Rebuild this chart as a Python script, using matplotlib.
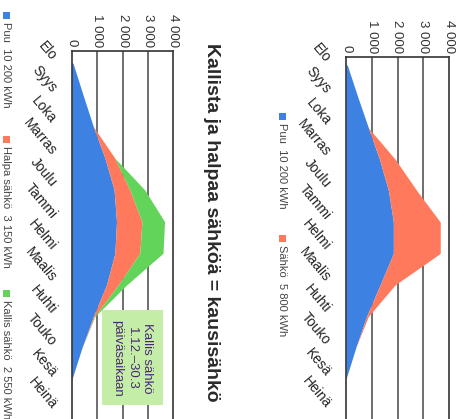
import numpy as np
import matplotlib.pyplot as plt
from matplotlib.patches import Rectangle

plt.rcParams['font.family'] = ['Liberation Sans', 'DejaVu Sans']

months = ['Elo', 'Syys', 'Loka', 'Marras', 'Joulu', 'Tammi',
          'Helmi', 'Maalis', 'Huhti', 'Touko', 'Kesä', 'Heinä']

# kausisähkö: wood + cheap and expensive electricity (kWh / month)
puu_kausi = [50, 445, 850, 1310, 1670, 1765, 1700, 1370, 850, 395, 0, 0]
halpa_sahko = [0, 0, 0, 390, 620, 1000, 980, 460, 40, 0, 0, 0]
kallis_sahko = [0, 0, 0, 0, 585, 890, 915, 330, 20, 0, 0, 0]

# plain electricity contract: wood + electricity (kWh / month)
puu_yleis = [50, 450, 870, 1300, 1650, 1840, 1840, 1325, 800, 380, 0, 0]
sahko = [0, 0, 0, 610, 1100, 1820, 1820, 585, 70, 0, 0, 0]

value_ticks = [0, 1000, 2000, 3000, 4000]
value_labels = ['0', '1 000', '2 000', '3 000', '4 000']

left_legend = ['Puu  10 200 kWh', 'Halpa sähkö  3 150 kWh', 'Kallis sähkö  2 550 kWh']
right_legend = ['Puu  10 200 kWh', 'Sähkö  5 800 kWh']
title_left = 'Kallista ja halpaa sähköä = kausisähkö'
note_text = 'Kallis sähkö\n1.12.–30.3\npäiväsaikaan'

c_blue = '#3d82e2'
c_red = '#ff7a5c'
c_green = '#62d45a'

W, H = 459, 419


def px_axes(fig, x0, x1, ytop, ybot):
    # axes rectangle given in image pixels (y down)
    return fig.add_axes([x0 / W, 1 - ybot / H, (x1 - x0) / W, (ybot - ytop) / H])


def draw_panel(ax, layers, colors, ylim):
    y = np.arange(len(months))
    base = np.zeros(len(months))
    for vals, col in zip(layers, colors):
        top = base + np.array(vals)
        ax.fill_betweenx(y, base, top, color=col, lw=0, zorder=2)
        base = top
    ax.set_xlim(0, 4000)
    ax.set_ylim(*ylim)
    ax.xaxis.tick_top()
    ax.set_xticks(value_ticks)
    ax.set_xticklabels(value_labels, rotation=-90, fontsize=9.5, color='#333')
    ax.tick_params(axis='x', length=0, pad=3)
    ax.set_yticks(y)
    ax.set_yticklabels(months, rotation=-50, fontsize=10, color='#222',
                       ha='right', va='bottom')
    ax.tick_params(axis='y', length=0, pad=9)
    for v in value_ticks[1:-1]:
        ax.axvline(v, color='#555', lw=1.2, zorder=1)
    for s in ax.spines.values():
        s.set_color('#333')
        s.set_linewidth(1.2)
    ax.set_facecolor('none')


fig = plt.figure(figsize=(W / 100, H / 100), dpi=100)

ax1 = px_axes(fig, 71.7, 173.3, 51, 440)
draw_panel(ax1, [puu_kausi, halpa_sahko, kallis_sahko], [c_blue, c_red, c_green],
           (11.89, -0.38))
ax1.text(2380, 9.3, note_text, rotation=-90, ha='center', va='center',
         fontsize=9.5, color='#4b2a6e', linespacing=1.35, zorder=4,
         bbox=dict(boxstyle='square,pad=0.7', fc='#c4eda8', ec='none'))

ax2 = px_axes(fig, 346, 449, 57, 440)
draw_panel(ax2, [puu_yleis, sahko], [c_blue, c_red], (11.94, -0.255))

# overlay in pixel coordinates for title and legends
ov = fig.add_axes([0, 0, 1, 1])
ov.set_xlim(0, W)
ov.set_ylim(H, 0)
ov.axis('off')
ov.patch.set_alpha(0)

ov.text(211, 43, title_left, rotation=-90, ha='center', va='top',
        fontsize=14, fontweight='bold', color='#2a2a2a')


def vertical_legend(x, starts, labels, colors):
    for y0, lab, col in zip(starts, labels, colors):
        ov.add_patch(Rectangle((x - 3.5, y0), 7, 7, color=col, lw=0))
        ov.text(x, y0 + 10, lab, rotation=-90, ha='center', va='top',
                fontsize=8, color='#444')


vertical_legend(6, [12, 136, 290], left_legend, [c_blue, c_red, c_green])
vertical_legend(282, [113, 235], right_legend, [c_blue, c_red])

fig.savefig('out.png', dpi=100)
